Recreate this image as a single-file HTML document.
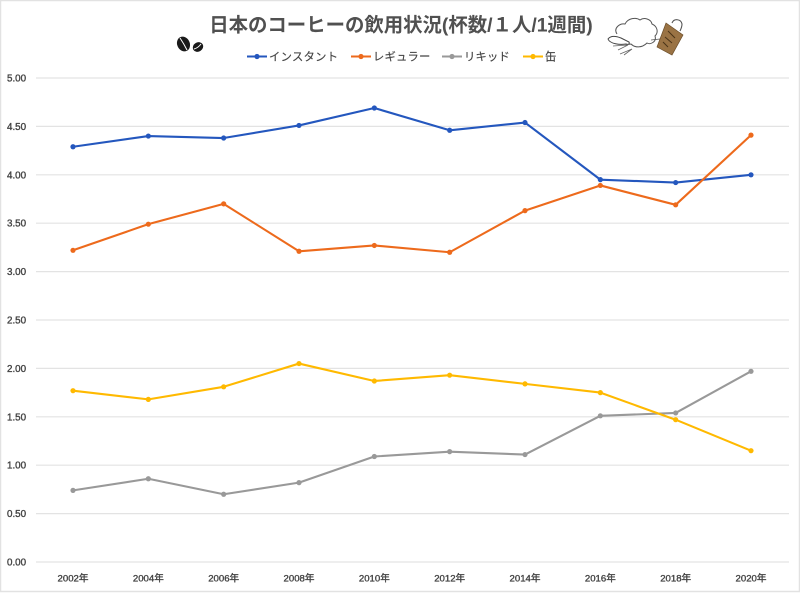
<!DOCTYPE html>
<html lang="ja">
<head>
<meta charset="utf-8">
<title>日本のコーヒーの飲用状況</title>
<style>
html,body{margin:0;padding:0;background:#fff;}
body{width:800px;height:593px;overflow:hidden;}
svg{display:block;font-family:"Liberation Sans","Noto Sans CJK JP",sans-serif;}
</style>
</head>
<body>
<svg id="chart" width="800" height="593" viewBox="0 0 800 593">
  <rect x="0.5" y="0.5" width="799" height="591" fill="#fff" stroke="#e2e2e2" stroke-width="1.5"/>
  <text x="401" y="31.5" text-anchor="middle" font-size="19.4" font-weight="700" fill="#505050">日本のコーヒーの飲用状況(杯数/１人/1週間)</text>
  <g id="gridlines"></g>
  <g id="y-axis"></g>
  <g id="x-axis"></g>
  <g id="series"></g>
  <g id="legend"></g>
  <g fill="#1a1a1a">
    <ellipse cx="183.5" cy="44" rx="6.3" ry="7.6" transform="rotate(-25 183.5 44)"/>
    <ellipse cx="198" cy="47" rx="5.4" ry="4.6" transform="rotate(-30 198 47)"/>
    <path d="M180 38 Q184 44 187 50" stroke="#fff" stroke-width="1" fill="none"/>
    <path d="M194 49 Q198 48 201 44" stroke="#fff" stroke-width="1" fill="none"/>
  </g>
  <g>
    <path d="M617 34 C613 28 620 23 625 24 C628 18 636 17 640 20 C644 17 651 19 652 24 C657 26 659 32 655 36 C657 42 650 45 647 43 C642 48 635 48 631 44 C627 45 623 43 621 41" fill="#fff" stroke="#555" stroke-width="1"/>
    <path d="M608 39 C611 35 616 36 621 38 L629 42 C630 44 628 45 626 44 C620 45 610 44 608 39 Z" fill="#fff" stroke="#444" stroke-width="1"/>
    <path d="M613 46 L628 45 L618 50 M620 54 L632 49 L624 55" stroke="#666" stroke-width="0.8" fill="none"/>
    <path d="M651 40 L660 39" stroke="#555" stroke-width="0.8" fill="none"/>
    <path d="M666 23 L683 35 L672 55 L657 47 Z" fill="#9a7344" stroke="#6a4d2a" stroke-width="0.7"/>
    <path d="M672 23 C674 18 681 19 682 24 C682 27 681 29 680 31" stroke="#555" stroke-width="1.1" fill="none"/>
    <path d="M668 31 L675 38 M665 37 L672 43 M663 42 L668 47" stroke="#4a3418" stroke-width="1"/>
  </g>
</svg>
<script>
const yTicks = [0, 0.5, 1, 1.5, 2, 2.5, 3, 3.5, 4, 4.5, 5];
const categories = ['2002年','2004年','2006年','2008年','2010年','2012年','2014年','2016年','2018年','2020年'];
const instantValues = [4.29, 4.40, 4.38, 4.51, 4.69, 4.46, 4.54, 3.95, 3.92, 4.00];
const regularValues = [3.22, 3.49, 3.70, 3.21, 3.27, 3.20, 3.63, 3.89, 3.69, 4.41];
const liquidValues = [0.74, 0.86, 0.70, 0.82, 1.09, 1.14, 1.11, 1.51, 1.54, 1.97];
const cannedValues = [1.77, 1.68, 1.81, 2.05, 1.87, 1.93, 1.84, 1.75, 1.47, 1.15];
const seriesNames = ['インスタント','レギュラー','リキッド','缶'];

const NS = 'http://www.w3.org/2000/svg';
const seriesColors = ['#2457be','#ed6a1c','#999999','#ffb900'];
const seriesData = [instantValues, regularValues, liquidValues, cannedValues];
const seriesKeys = ['instant','regular','liquid','canned'];
const legendLineX = [247, 351, 442, 523];
const plot = {left: 36, right: 789, top: 78, bottom: 562, firstX: 73, lastX: 751, maxV: 5};

function xScale(i) {
  return plot.firstX + i * (plot.lastX - plot.firstX) / (categories.length - 1);
}
function yScale(v) {
  return plot.bottom - v / plot.maxV * (plot.bottom - plot.top);
}
function make(tag, attrs, parent, text) {
  const el = document.createElementNS(NS, tag);
  for (const k in attrs) el.setAttribute(k, attrs[k]);
  if (text !== undefined) el.textContent = text;
  parent.appendChild(el);
  return el;
}

const gridG = document.getElementById('gridlines');
const yG = document.getElementById('y-axis');
const xG = document.getElementById('x-axis');
const seriesG = document.getElementById('series');
const legendG = document.getElementById('legend');

yTicks.forEach(function (t) {
  const y = yScale(t);
  const line = make('line', {x1: plot.left, x2: plot.right, y1: y, y2: y, stroke: '#e3e3e3', 'stroke-width': 1.2}, gridG);
  
  
  const label = make('text', {x: 7, y: y + 3.5, 'font-size': 9.8, stroke: '#444', 'stroke-width': 0.35, fill: '#444'}, yG, t.toFixed(2));
  
  
});

categories.forEach(function (c, i) {
  const label = make('text', {x: xScale(i), y: 581.5, 'text-anchor': 'middle', 'font-size': 9.6, stroke: '#444', 'stroke-width': 0.35, fill: '#444'}, xG, c);
  
  
});

seriesData.forEach(function (vals, s) {
  const g = make('g', {}, seriesG);
  
  
  const pts = vals.map(function (v, i) { return xScale(i) + ',' + yScale(v); }).join(' ');
  const line = make('polyline', {points: pts, fill: 'none', stroke: seriesColors[s], 'stroke-width': 2.1, 'stroke-linejoin': 'round', 'stroke-linecap': 'round'}, g);
  
  
  vals.forEach(function (v, i) {
    const dot = make('circle', {cx: xScale(i), cy: yScale(v), r: 2.6, fill: seriesColors[s]}, g);
    
    
  });
  const entry = make('g', {}, legendG);
  
  
  const lx = legendLineX[s];
  make('line', {x1: lx, x2: lx + 20, y1: 56.5, y2: 56.5, stroke: seriesColors[s], 'stroke-width': 2}, entry);
  make('circle', {cx: lx + 10, cy: 56.5, r: 2.6, fill: seriesColors[s]}, entry);
  make('text', {x: lx + 22, y: 60.5, 'font-size': 11.3, 'letter-spacing': s === 0 ? 0.3 : 0.2, stroke: '#444', 'stroke-width': 0.15, fill: '#444'}, entry, seriesNames[s]);
});
</script>
</body>
</html>
